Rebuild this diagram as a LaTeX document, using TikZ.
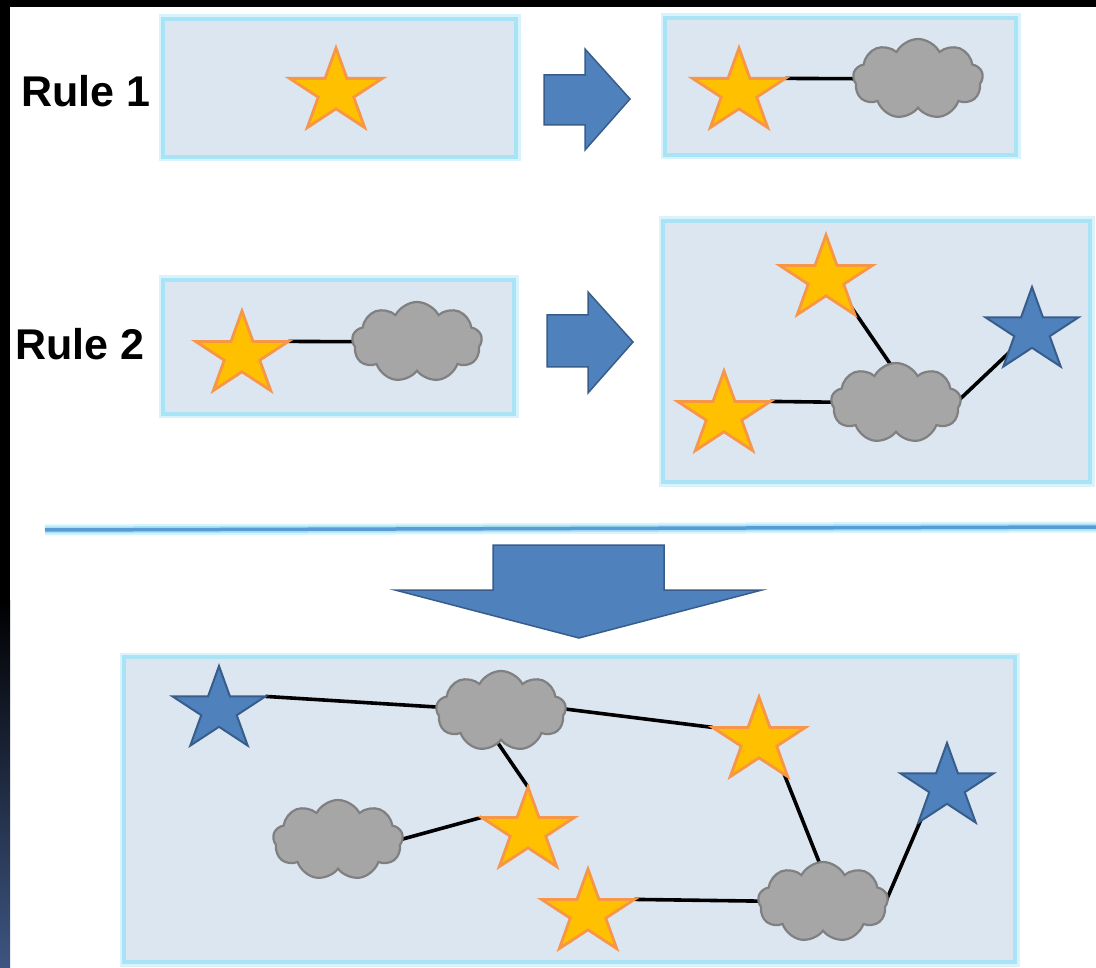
\documentclass[tikz,border=0pt]{standalone}
\usepackage{fontspec}
\setmainfont{Liberation Sans}
\usetikzlibrary{shapes.geometric,shapes.symbols,calc}
\pgfdeclarelayer{boxes}
\pgfdeclarelayer{edges}
\pgfsetlayers{boxes,edges,main}

\definecolor{boxfill}{RGB}{220,230,241}
\definecolor{boxline}{RGB}{168,228,246}
\definecolor{boxglow}{RGB}{216,243,251}
\definecolor{ofill}{RGB}{255,192,0}
\definecolor{oline}{RGB}{247,150,70}
\definecolor{bfill}{RGB}{79,129,189}
\definecolor{bline}{RGB}{56,93,138}
\definecolor{cfill}{RGB}{166,166,166}
\definecolor{cline}{RGB}{128,128,128}
\definecolor{stripblue}{RGB}{62,85,130}
\definecolor{hline}{RGB}{91,155,213}

\begin{document}
\begin{tikzpicture}[x=1pt,y=-1pt,
  rulebox/.style={fill=boxfill, draw=boxline, line width=4pt},
  boxhalo/.style={draw=boxglow, line width=9pt},
  starbase/.style={star, star points=5, star point ratio=2.618, minimum size=88pt, inner sep=0pt, outer sep=0pt, xscale=1.11},
  ostar/.style={starbase, fill=ofill, draw=oline, line width=2.8pt},
  bstar/.style={starbase, fill=bfill, draw=bline, line width=2pt},
  cloudnode/.style={cloud, cloud puffs=9, cloud puff arc=125, aspect=1.7, minimum width=130pt, minimum height=80pt, inner sep=0pt, fill=cfill, draw=cline, line width=2.2pt},
  link/.style={line width=3.6pt, black},
  blockarrow/.style={fill=bfill, draw=bline, line width=1.5pt, line join=miter},
  rulelabel/.style={anchor=base west, font=\fontsize{43}{52}\selectfont\bfseries, inner sep=0pt}
]
\useasboundingbox (0,0) rectangle (1096,968);

\begin{pgfonlayer}{boxes}
  \fill[white] (0,0) rectangle (1096,968);
  \fill[black] (0,0) rectangle (1096,7);
  \fill[black] (0,0) rectangle (10,600);
  \shade[top color=black, bottom color=stripblue] (0,600) rectangle (10,968);
  % rule boxes
  \foreach \a/\b in {{(163,19)}/{(516,157)}, {(665,18)}/{(1016,155)}, {(163,280)}/{(514,414)}, {(663,221)}/{(1090,482)}, {(124,657)}/{(1015,962)}}{
    \draw[boxhalo] \a rectangle \b;
    \draw[rulebox] \a rectangle \b;
  }
  % separator line
  \draw[boxglow, line width=11pt] (45,530) -- (1096,527);
  \draw[boxline, line width=7pt] (45,530) -- (1096,527);
  \draw[hline, line width=3.5pt] (45,530) -- (1096,527);
  % block arrows
  \draw[blockarrow] (544,75) -- (585,75) -- (585,49) -- (630,99) -- (585,150) -- (585,125) -- (544,125) -- cycle;
  \draw[blockarrow] (547,315) -- (588,315) -- (588,292) -- (633,342) -- (588,393) -- (588,367) -- (547,367) -- cycle;
  \draw[blockarrow] (493,545) -- (664,545) -- (664,590) -- (762,590) -- (579,638) -- (395,590) -- (493,590) -- cycle;
\end{pgfonlayer}

% labels
\node[rulelabel] (r1) at (21,107) {Rule 1};
\node[rulelabel] (r2) at (15,360) {Rule 2};

% rule 1
\node[ostar] (s1) at (336,92) {};
\node[ostar] (s2) at (739,92) {};
\node[cloudnode] (c2) at (918,79) {};

% rule 2
\node[ostar] (s3) at (242,355) {};
\node[cloudnode] (c3) at (417,342) {};
\node[ostar] (s4a) at (826,279) {};
\node[ostar] (s4b) at (724,415) {};
\node[bstar] (s4c) at (1032,331) {};
\node[cloudnode] (c4) at (896,403) {};

% result
\node[bstar] (s5a) at (219,710) {};
\node[cloudnode] (c5a) at (501,711) {};
\node[ostar] (s5c) at (759,741) {};
\node[bstar] (s5e) at (947,787) {};
\node[cloudnode] (c5b) at (338,840) {};
\node[ostar] (s5b) at (528,831) {};
\node[ostar] (s5d) at (588,913) {};
\node[cloudnode] (c5c) at (823,902) {};

\begin{pgfonlayer}{edges}
  \draw[link] (s2.outer point 5) -- (c2.center);
  \draw[link] (s3.outer point 5) -- (c3.center);
  \draw[link] ($(s4a.center)+(6,0)$) -- ($(c4.center)+(21,0)$);
  \draw[link] (s4b.outer point 5) -- (c4.center);
  \draw[link] ($(c4.center)+(44,15)$) -- (s4c.center);
  \draw[link] (s5a.outer point 5) -- (c5a.center);
  \draw[link] ($(c5a.center)+(0,-10)$) -- (s5c.outer point 2);
  \draw[link] ($(c5a.center)+(-25,0)$) -- (s5b.outer point 1);
  \draw[link] ($(c5b.center)+(32,8)$) -- (s5b.outer point 2);
  \draw[link] ($(s5c.center)+(12,0)$) -- ($(c5c.center)+(12,0)$);
  \draw[link] (s5d.outer point 5) -- (c5c.center);
  \draw[link] ($(c5c.center)+(57,13)$) -- ($(s5e.center)+(-12,0)$);
\end{pgfonlayer}
\end{tikzpicture}
\end{document}
